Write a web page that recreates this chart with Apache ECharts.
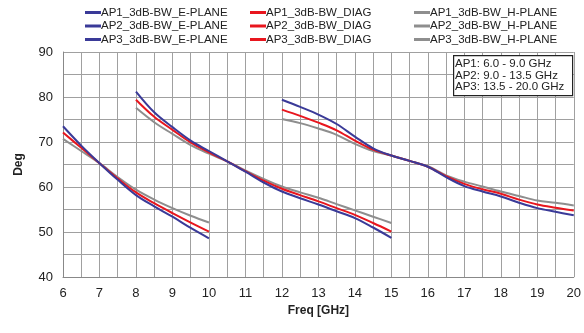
<!DOCTYPE html>
<html><head><meta charset="utf-8">
<script src="https://cdn.jsdelivr.net/npm/echarts@6/dist/echarts.min.js"></script>
<style>html,body{margin:0;padding:0;background:#fff}#c{width:584px;height:333px}</style>
</head><body><div id="c"></div>
<script>
const freqAP1 = [6,6.5,7,7.5,8,8.5,9,9.5,10];
const freqAP2 = [8,8.5,9,9.5,10,10.5,11,11.5,12,12.5,13,13.5,14,14.5,15];
const freqAP3 = [12,12.5,13,13.5,14,14.5,15,15.5,16,16.5,17,17.5,18,18.5,19,19.5,20];

const AP1_E = [73.5,69.2,65.3,61.6,58.2,55.7,53.4,50.9,48.6];
const AP1_D = [72.1,68.7,65.3,61.9,58.8,56.4,54.2,52.1,50.1];
const AP1_H = [70.7,68.0,65.3,62.2,59.4,57.2,55.3,53.6,52.1];

const AP2_E = [81.2,76.6,73.3,70.3,68.0,65.7,63.4,61.0,59.0,57.5,56.1,54.6,53.1,51.0,48.7];
const AP2_D = [79.4,75.6,72.7,69.9,67.7,65.7,63.5,61.4,59.6,58.2,56.8,55.3,53.8,52.0,50.1];
const AP2_H = [77.6,74.4,71.8,69.3,67.4,65.7,63.7,61.8,60.1,58.8,57.6,56.2,54.8,53.4,52.0];

const AP3_E = [79.4,77.8,76.1,74.0,71.2,68.6,67.0,65.8,64.5,62.2,60.2,59.0,57.9,56.5,55.3,54.5,53.7];
const AP3_D = [77.2,75.8,74.3,72.6,70.3,68.3,67.0,65.8,64.5,62.4,60.7,59.5,58.5,57.2,56.1,55.4,54.8];
const AP3_H = [75.1,74.2,73.0,71.6,69.6,68.0,67.0,65.8,64.6,62.6,61.2,60.1,59.0,58.0,57.0,56.5,55.9];

const names = ['AP1_3dB-BW_E-PLANE','AP2_3dB-BW_E-PLANE','AP3_3dB-BW_E-PLANE',
               'AP1_3dB-BW_DIAG','AP2_3dB-BW_DIAG','AP3_3dB-BW_DIAG',
               'AP1_3dB-BW_H-PLANE','AP2_3dB-BW_H-PLANE','AP3_3dB-BW_H-PLANE'];
const boxText = ['AP1: 6.0 - 9.0 GHz','AP2: 9.0 - 13.5 GHz','AP3: 13.5 - 20.0 GHz'];

const BLUE = '#3a3a98', RED = '#e8161e', GRAY = '#8e8e8e';
const zip = (f, v) => f.map((x, i) => [x, v[i]]);
const defs = [
  [names[0], freqAP1, AP1_E, BLUE],[names[1], freqAP2, AP2_E, BLUE],[names[2], freqAP3, AP3_E, BLUE],
  [names[3], freqAP1, AP1_D, RED],[names[4], freqAP2, AP2_D, RED],[names[5], freqAP3, AP3_D, RED],
  [names[6], freqAP1, AP1_H, GRAY],[names[7], freqAP2, AP2_H, GRAY],[names[8], freqAP3, AP3_H, GRAY]
];
const order = [6,7,8,3,4,5,0,1,2];
const series = order.map(i => {
  const d = defs[i];
  return {name: d[0], type: 'line', data: zip(d[1], d[2]), smooth: 0.35, symbol: 'none',
    lineStyle: {color: d[3], width: 2}, itemStyle: {color: d[3]}};
});
const font = 'Liberation Sans, Arial, sans-serif';
const mkLegend = (left, data) => ({
  left: left, top: 6, orient: 'vertical', itemGap: 0.5, itemWidth: 16, itemHeight: 3, icon: 'rect',
  data: data, textStyle: {fontFamily: font, fontSize: 11.5, lineHeight: 13, color: '#222', padding: [0,0,0,-5]}, padding: 0
});
const chart = echarts.init(document.getElementById('c'), null, {renderer: 'canvas'});
chart.setOption({
  animation: false,
  backgroundColor: '#fff',
  legend: [mkLegend(85, names.slice(0,3)), mkLegend(250, names.slice(3,6)), mkLegend(414, names.slice(6,9))],
  grid: {left: 63, right: 7, top: 52, bottom: 56},
  xAxis: {type: 'value', min: 6, max: 20, interval: 0.5,
    name: 'Freq [GHz]', nameLocation: 'middle', nameGap: 26,
    nameTextStyle: {fontFamily: font, fontWeight: 'bold', fontSize: 12, color: '#222'},
    axisLine: {lineStyle: {color: '#888'}}, axisTick: {show: false},
    axisLabel: {fontFamily: font, fontSize: 13, color: '#222', margin: 10,
      formatter: v => (Math.abs(v - Math.round(v)) < 1e-6 ? String(Math.round(v)) : '')},
    splitLine: {show: true, lineStyle: {color: '#a0a0a0', width: 1}}},
  yAxis: {type: 'value', min: 40, max: 90, interval: 5,
    name: 'Deg', nameLocation: 'middle', nameGap: 38, nameRotate: 90,
    nameTextStyle: {fontFamily: font, fontWeight: 'bold', fontSize: 12, color: '#222'},
    axisLine: {show: true, lineStyle: {color: '#888'}}, axisTick: {show: false},
    axisLabel: {fontFamily: font, fontSize: 13, color: '#222', margin: 10,
      formatter: v => (v % 10 === 0 ? String(v) : '')},
    splitLine: {show: true, lineStyle: {color: '#a0a0a0', width: 1}}},
  graphic: [
    {type: 'rect', z: 100, left: 453, top: 55, shape: {x: 0, y: 0, width: 119, height: 40},
      style: {fill: '#fff', stroke: '#222', lineWidth: 1.2}},
    {type: 'text', z: 101, left: 455, top: 58,
      style: {text: boxText.join('\n'), fontFamily: font, fontSize: 11.5, lineHeight: 11.5, fill: '#222'}}
  ],
  series: series
});
</script></body></html>
